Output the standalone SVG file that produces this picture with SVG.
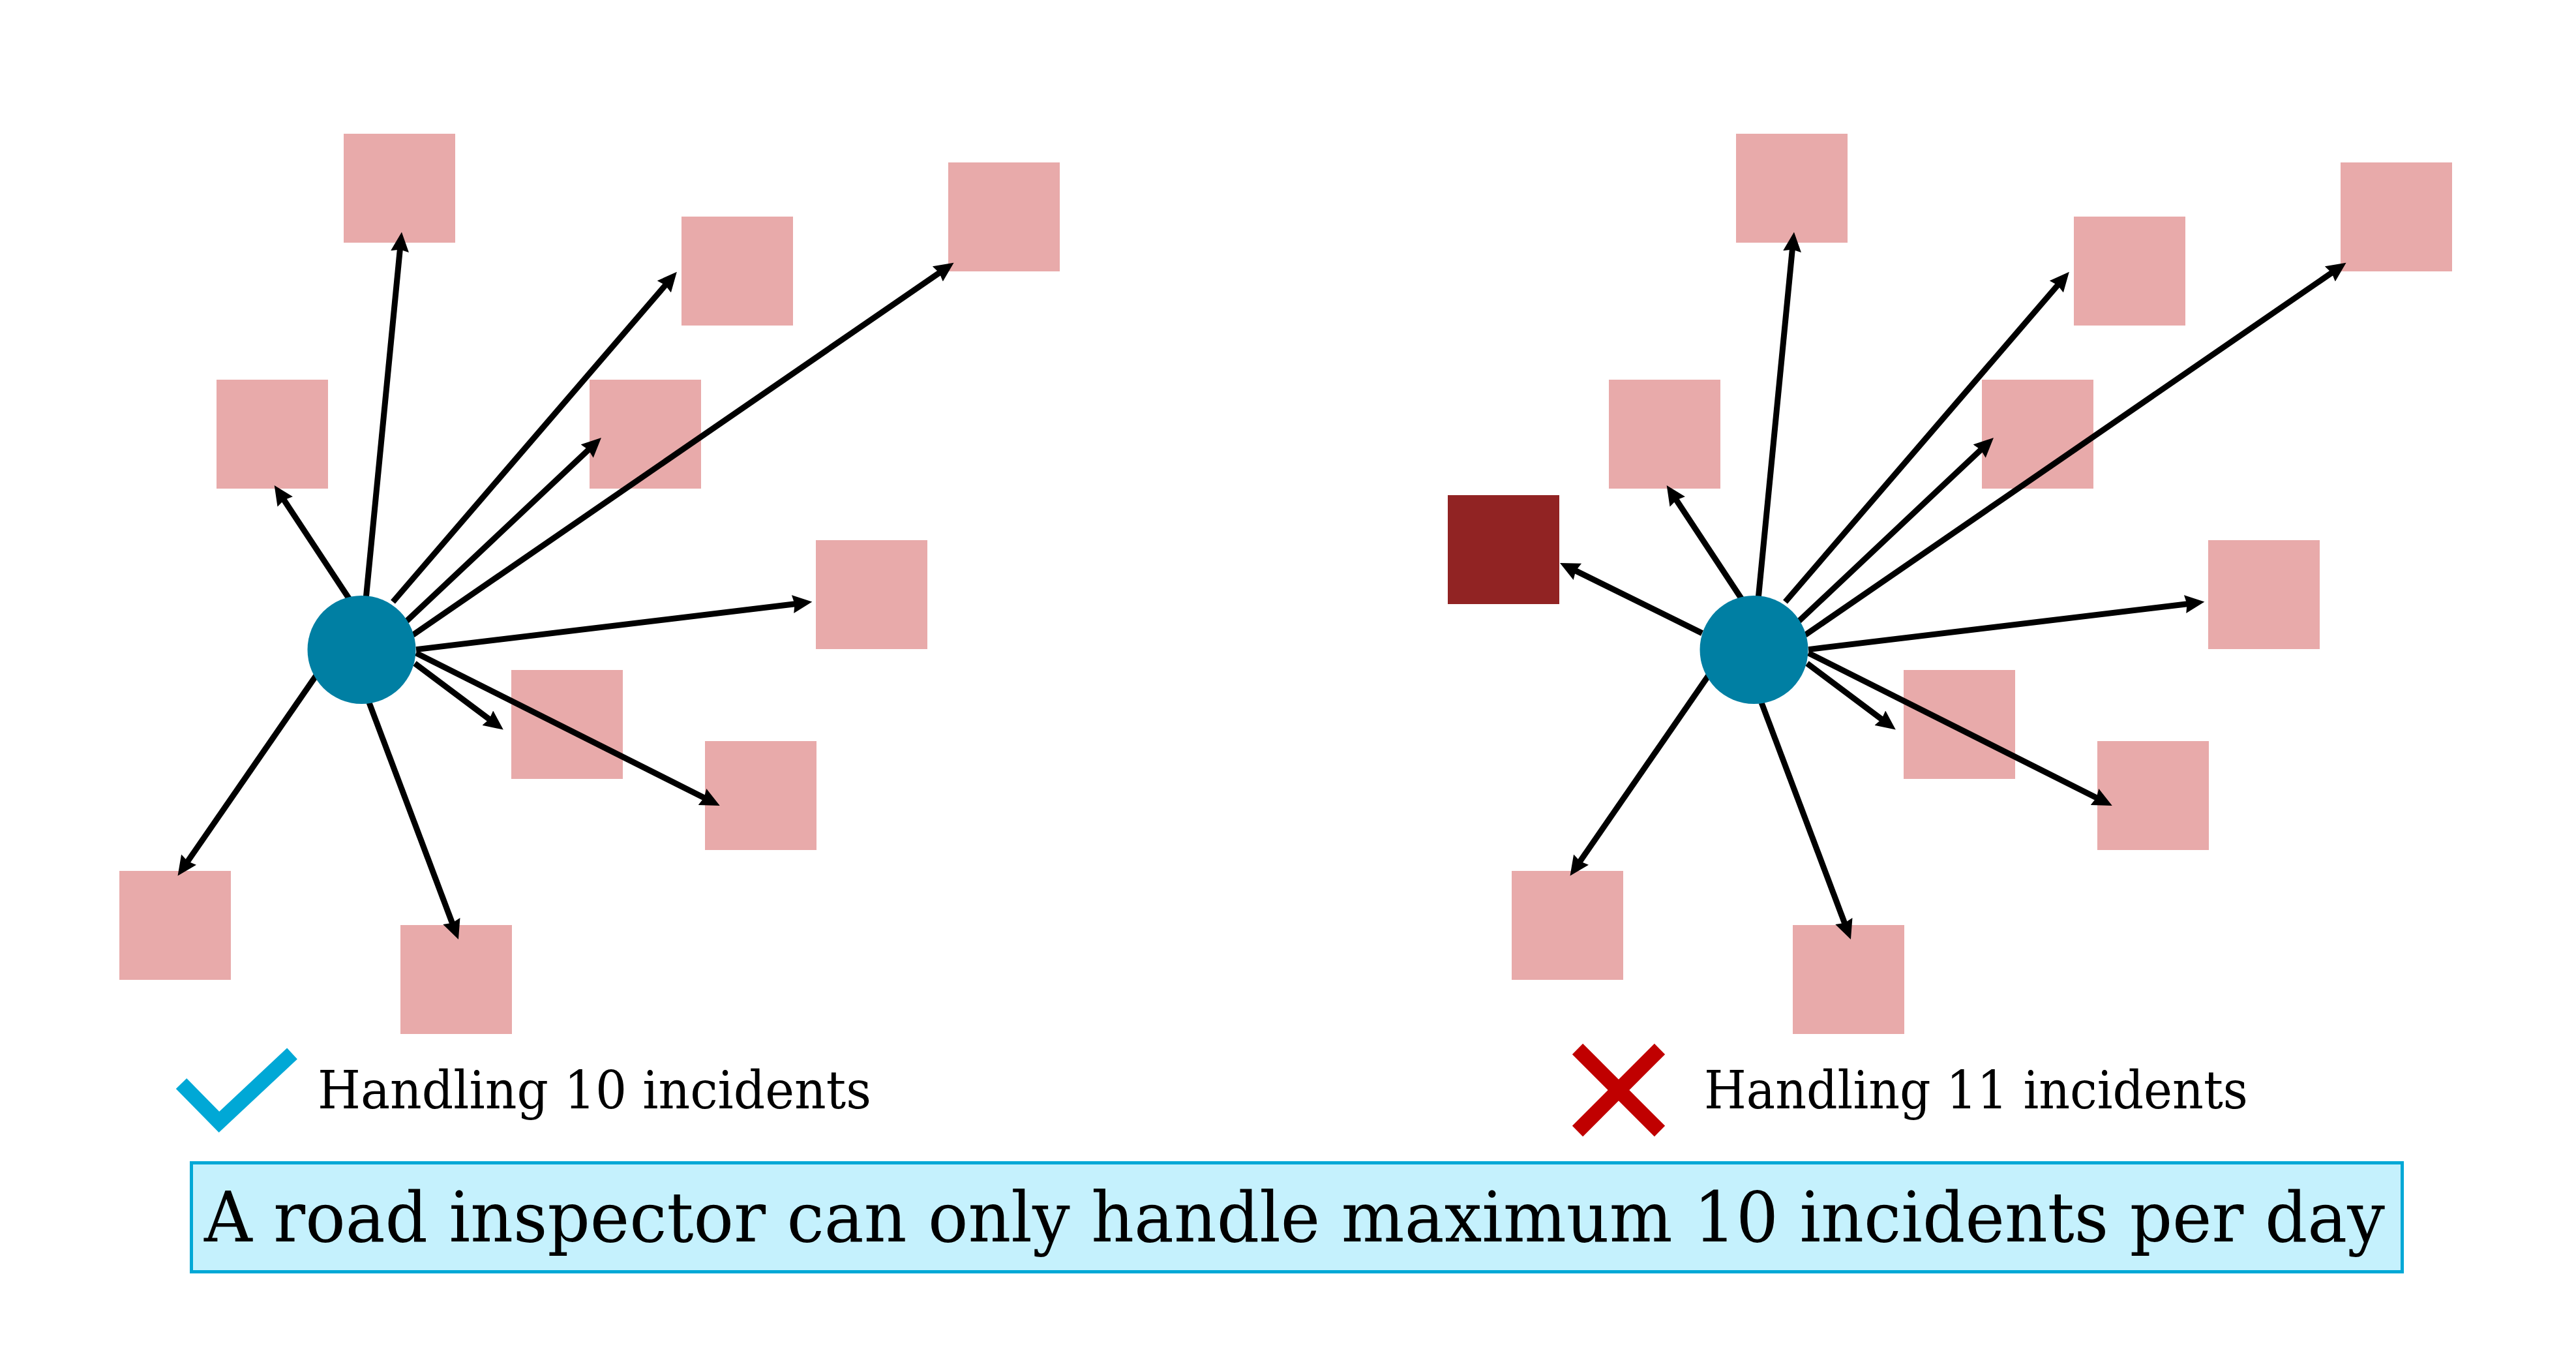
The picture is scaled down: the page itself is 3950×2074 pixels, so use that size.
<svg xmlns="http://www.w3.org/2000/svg" width="3950" height="2074" viewBox="0 0 3950 2074">
<style>
.sq{fill:#E8AAAA}
.hot{fill:#912323}
.hub{fill:#007FA3}
.edge{stroke:#000;stroke-width:9;fill:none;marker-end:url(#ah)}
.lbl{font-family:"DejaVu Serif","Liberation Serif",serif;font-size:80px;fill:#000}
.ban{font-family:"DejaVu Serif","Liberation Serif",serif;font-size:106px;fill:#000}
</style>
<defs>
<marker id="ah" markerUnits="userSpaceOnUse" markerWidth="32" markerHeight="30" refX="10" refY="14" orient="auto">
<path d="M0,0 L30,14 L0,28 L3,14 z" fill="#000"/>
</marker>
</defs>
<rect width="3950" height="2074" fill="#fff"/>
<g id="left-panel">
<g id="L-inc1"><rect class="sq" x="527" y="205" width="171" height="167"/></g>
<g id="L-inc2"><rect class="sq" x="1045" y="332" width="171" height="167"/></g>
<g id="L-inc3"><rect class="sq" x="1454" y="249" width="171" height="167"/></g>
<g id="L-inc4"><rect class="sq" x="332" y="582" width="171" height="167"/></g>
<g id="L-inc5"><rect class="sq" x="904" y="582" width="171" height="167"/></g>
<g id="L-inc6"><rect class="sq" x="1251" y="828" width="171" height="167"/></g>
<g id="L-inc7"><rect class="sq" x="784" y="1027" width="171" height="167"/></g>
<g id="L-inc8"><rect class="sq" x="1081" y="1136" width="171" height="167"/></g>
<g id="L-inc9"><rect class="sq" x="183" y="1335" width="171" height="167"/></g>
<g id="L-inc10"><rect class="sq" x="614" y="1418" width="171" height="167"/></g>
</g>
<g id="right-panel">
<g id="R-inc1"><rect class="sq" x="2662" y="205" width="171" height="167"/></g>
<g id="R-inc2"><rect class="sq" x="3180" y="332" width="171" height="167"/></g>
<g id="R-inc3"><rect class="sq" x="3589" y="249" width="171" height="167"/></g>
<g id="R-inc4"><rect class="sq" x="2467" y="582" width="171" height="167"/></g>
<g id="R-inc5"><rect class="sq" x="3039" y="582" width="171" height="167"/></g>
<g id="R-inc6"><rect class="sq" x="3386" y="828" width="171" height="167"/></g>
<g id="R-inc7"><rect class="sq" x="2919" y="1027" width="171" height="167"/></g>
<g id="R-inc8"><rect class="sq" x="3216" y="1136" width="171" height="167"/></g>
<g id="R-inc9"><rect class="sq" x="2318" y="1335" width="171" height="167"/></g>
<g id="R-inc10"><rect class="sq" x="2749" y="1418" width="171" height="167"/></g>
<g id="R-inc11"><rect class="hot" x="2220" y="759" width="171" height="167"/></g>
</g>
<g id="connectors">
<g id="left-edges">
<line class="edge" x1="561.4" y1="915" x2="614.0" y2="375.6"/>
<line class="edge" x1="602.5" y1="922.6" x2="1024.8" y2="431.9"/>
<line class="edge" x1="633" y1="973.4" x2="1446.1" y2="414.2"/>
<line class="edge" x1="535.5" y1="918" x2="431.7" y2="760.7"/>
<line class="edge" x1="623.5" y1="952" x2="907.4" y2="684.7"/>
<line class="edge" x1="638" y1="995.6" x2="1225.5" y2="925.0"/>
<line class="edge" x1="636" y1="1016.9" x2="755.8" y2="1106.6"/>
<line class="edge" x1="638" y1="1001" x2="1085.9" y2="1226.0"/>
<line class="edge" x1="484.8" y1="1035.4" x2="283.9" y2="1326.0"/>
<line class="edge" x1="566" y1="1077" x2="695.9" y2="1421.3"/>
</g>
<g id="right-edges" transform="translate(2135,0)">
<line class="edge" x1="561.4" y1="915" x2="614.0" y2="375.6"/>
<line class="edge" x1="602.5" y1="922.6" x2="1024.8" y2="431.9"/>
<line class="edge" x1="633" y1="973.4" x2="1446.1" y2="414.2"/>
<line class="edge" x1="535.5" y1="918" x2="431.7" y2="760.7"/>
<line class="edge" x1="623.5" y1="952" x2="907.4" y2="684.7"/>
<line class="edge" x1="638" y1="995.6" x2="1225.5" y2="925.0"/>
<line class="edge" x1="636" y1="1016.9" x2="755.8" y2="1106.6"/>
<line class="edge" x1="638" y1="1001" x2="1085.9" y2="1226.0"/>
<line class="edge" x1="484.8" y1="1035.4" x2="283.9" y2="1326.0"/>
<line class="edge" x1="566" y1="1077" x2="695.9" y2="1421.3"/>
</g>
<line class="edge" x1="2610" y1="970.6" x2="2409.9" y2="871.9"/>
</g>
<g id="L-inspector"><circle class="hub" cx="554.5" cy="996" r="83"/></g>
<g id="R-inspector"><circle class="hub" cx="2689.5" cy="996" r="83"/></g>
<g id="legend-ok">
<polyline points="278,1661 336,1720 448,1615" fill="none" stroke="#00A8D6" stroke-width="23"/>
<text class="lbl" x="487" y="1699" textLength="849" lengthAdjust="spacingAndGlyphs">Handling 10 incidents</text>
</g>
<g id="legend-bad">
<line x1="2419" y1="1608" x2="2545" y2="1734" stroke="#C00000" stroke-width="23"/>
<line x1="2545" y1="1608" x2="2419" y2="1734" stroke="#C00000" stroke-width="23"/>
<text class="lbl" x="2613" y="1699" textLength="834" lengthAdjust="spacingAndGlyphs">Handling 11 incidents</text>
</g>
<g id="banner">
<rect x="293.5" y="1782.5" width="3390" height="167" fill="#C5F1FD" stroke="#00A8D6" stroke-width="5"/>
<text class="ban" x="313" y="1903" textLength="3344" lengthAdjust="spacingAndGlyphs">A road inspector can only handle maximum 10 incidents per day</text>
</g>
</svg>
